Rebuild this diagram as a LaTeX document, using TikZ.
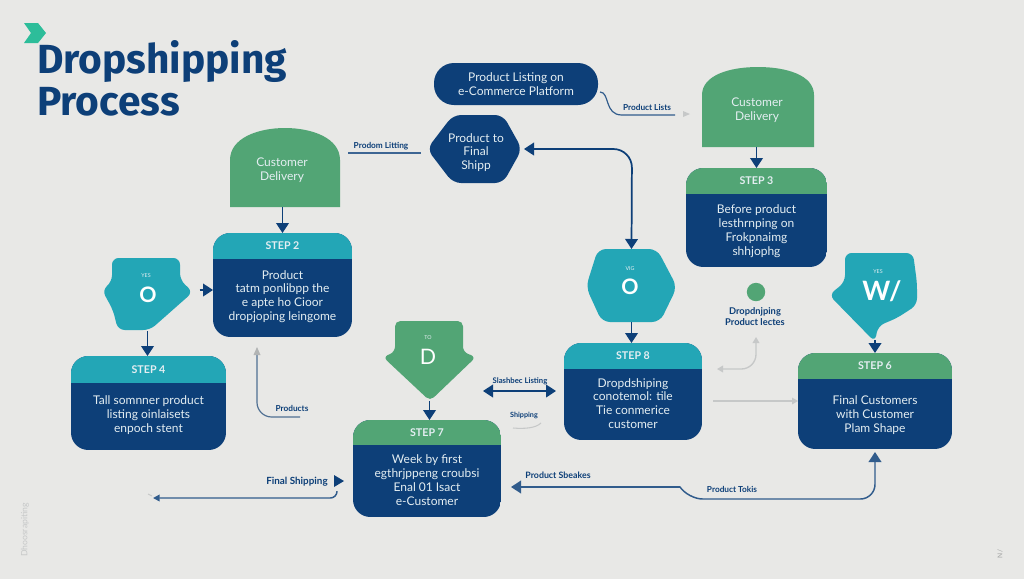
\documentclass[tikz,border=0pt]{standalone}
\usepackage{fontspec}
\setmainfont{Lato}
\newfontfamily\titlefont{Fira Sans}
\usetikzlibrary{arrows.meta,calc,fit}
\definecolor{bgc}{HTML}{E8E8E6}
\definecolor{navyc}{HTML}{0D3F78}
\definecolor{tealc}{HTML}{23A6B6}
\definecolor{greenc}{HTML}{52A575}
\definecolor{mintc}{HTML}{2DBD9A}
\definecolor{txtc}{HTML}{E4EEF2}
\definecolor{faintc}{HTML}{C6C8C8}
\definecolor{midc}{HTML}{4F6F92}
\newcommand{\labelsized}[1]{\fontsize{#1}{8}\selectfont\bfseries}
\tikzset{
  box/.style={inner sep=0pt,outer sep=0pt},
  bodytext/.style={text=txtc,align=center,font=\fontsize{9}{10.4}\selectfont,inner sep=0pt},
  titletext/.style={text=txtc,font=\fontsize{8}{10}\selectfont\bfseries,inner sep=0pt},
  smalllabel/.style={text=navyc,align=center,font=\labelsized{6.2},inner sep=0pt},
  tinytext/.style={text=txtc,font=\fontsize{4}{5}\selectfont,inner sep=0pt},
  bigletter/.style={text=white,font=\fontsize{16}{18}\selectfont,inner sep=0pt},
  headline/.style={anchor=base west,inner sep=0pt,text=navyc,font=\titlefont\fontsize{30.5}{32}\selectfont\bfseries},
  flow/.style={draw=navyc,line width=1.3pt,-{Triangle[length=7.5pt,width=9.5pt]}},
  flowboth/.style={draw=navyc,line width=1.3pt,{Triangle[length=7.5pt,width=9.5pt]}-{Triangle[length=7.5pt,width=9.5pt]}},
  thinflow/.style={draw=midc,line width=.9pt},
  faintflow/.style={draw=faintc,line width=.8pt},
  fainthead/.style={-{Triangle[length=4.5pt,width=5pt]}},
  softc/.style={rounded corners=6pt},
}
\newcommand{\bodyshift}{0}
% name, x0, y0, x1, y1, ysplit, colour, title, body
\newcommand{\flowcard}[9]{%
  \coordinate (#1-a) at (#2,#3);
  \coordinate (#1-b) at (#4,#5);
  \node[box,fit=(#1-a)(#1-b)] (#1) {};
  \begin{scope}
    \clip[rounded corners=13pt] (#2,#3) rectangle (#4,#5);
    \fill[navyc] (#2,#3) rectangle (#4,#5);
    \fill[#7] (#2,#3) rectangle (#4,#6);
  \end{scope}
  \node[titletext] (#1-title) at ($(#2,#3)!.5!(#4,#6)$) {#8};
  \node[bodytext] (#1-body) at ($(#2,#6)!.5!(#4,#5)+(0,\bodyshift)$) {#9};
}
\begin{document}
\begin{tikzpicture}[x=.75pt,y=-.75pt]
\useasboundingbox (0,0) rectangle (1024,579);
\fill[bgc] (0,0) rectangle (1024,579);

% title
\fill[mintc] (24,23) -- (38,23) -- (46,33) -- (38,43) -- (24,43) -- (31,33) -- cycle;
\node[headline] (title1) at (37,73) {Dropshipping};
\node[headline] (title2) at (37,115) {Process};

% customer delivery boxes
\fill[greenc] (230,207) -- (230,160) .. controls (230,138) and (258,128) .. (285,128) .. controls (312,128) and (340,138) .. (340,160) -- (340,207) -- cycle;
\coordinate (cl-a) at (230,128); \coordinate (cl-b) at (340,207);
\node[box,fit=(cl-a)(cl-b)] (custL) {};
\node[bodytext,text=txtc] (custLt) at (282,170) {Customer\\Delivery};

\fill[greenc] (702,147) -- (702,95) .. controls (702,75) and (730,67) .. (758,67) .. controls (786,67) and (814,75) .. (814,95) -- (814,147) -- cycle;
\coordinate (cr-a) at (702,67); \coordinate (cr-b) at (814,147);
\node[box,fit=(cr-a)(cr-b)] (custR) {};
\node[bodytext] (custRt) at (757,110) {Customer\\Delivery};

% pill
\coordinate (p-a) at (434,63); \coordinate (p-b) at (598,105);
\fill[navyc,rounded corners=15pt] (434,63) rectangle (598,105);
\node[box,fit=(p-a)(p-b)] (pill) {};
\node[bodytext] (pillt) at (516,84) {Product Listing on\\e-Commerce Platform};

% navy hexagon
\fill[navyc,softc] (427,149) -- (453,115) -- (503,115) -- (522,149) -- (503,183) -- (453,183) -- cycle;
\coordinate (h-a) at (427,115); \coordinate (h-b) at (522,183);
\node[box,fit=(h-a)(h-b)] (hexN) {};
\node[bodytext] (hexNt) at (476,152.5) {Product to\\Final\\Shipp};

% teal hexagon
\fill[tealc,softc] (586,287) -- (598,249) -- (657,249) -- (677,287) -- (660,322) -- (602,322) -- cycle;
\coordinate (t-a) at (586,249); \coordinate (t-b) at (677,322);
\node[box,fit=(t-a)(t-b)] (hexT) {};
\node[tinytext] (hexTs) at (630,269) {VIG};
\node[bigletter,font=\fontsize{16}{18}\selectfont\bfseries] (hexTo) at (630,287) {O};

% left teal pointer
\fill[tealc,rounded corners=5pt] (112,258) -- (180,258) -- (180,280) -- (193,292) -- (150,330) -- (118,330) -- (113,310) -- (102,290) -- (112,282) -- cycle;
\coordinate (l-a) at (102,258); \coordinate (l-b) at (193,331);
\node[box,fit=(l-a)(l-b)] (ptrL) {};
\node[tinytext] (ptrLs) at (146,276) {YES};
\node[bigletter,font=\fontsize{16}{18}\selectfont\bfseries] (ptrLo) at (148,295) {O};

% green pointer
\fill[greenc,rounded corners=4pt] (395,321) -- (463,321) -- (463,352) -- (476,357) -- (430,401) -- (383,357) -- (395,352) -- cycle;
\coordinate (d-a) at (383,321); \coordinate (d-b) at (476,401);
\node[box,fit=(d-a)(d-b)] (ptrD) {};
\node[tinytext] (ptrDs) at (428,338) {TO};
\node[bigletter] (ptrDo) at (428,357) {D};

% right teal pointer
\fill[tealc,rounded corners=5pt] (845,253) -- (913,253) -- (917,283) -- (917,305) -- (897,318) -- (878,326) -- (875,342) -- (829,295) -- (845,282) -- cycle;
\coordinate (w-a) at (829,253); \coordinate (w-b) at (917,342);
\coordinate (w-tip) at (875,340);
\node[box,fit=(w-a)(w-b)] (ptrW) {};
\node[tinytext] (ptrWs) at (878,272) {YES};
\node[bigletter,font=\fontsize{20}{22}\selectfont\bfseries] (ptrWo) at (882,291) {W/};

% step cards
\renewcommand{\bodyshift}{-1.5}
\flowcard{stepB}{213}{233}{352}{337}{259}{tealc}{STEP 2}{Product\\tatm ponlibpp the\\e apte ho Cioor\\dropjoping leingome}
\flowcard{stepD}{71}{356}{226}{450}{383}{tealc}{STEP 4}{Tall somnner product\\listing oinlaisets\\enpoch stent}
\renewcommand{\bodyshift}{0.5}
\flowcard{stepC}{686}{168}{827}{267}{194}{greenc}{STEP 3}{Before product\\lesthrnping on\\Frokpnaimg\\shhjophg}
\renewcommand{\bodyshift}{-1}
\flowcard{stepH}{564}{343}{702}{440}{369}{tealc}{STEP 8}{Dropdshiping\\conotemol: tile\\Tie conmerice\\customer}
\flowcard{stepG}{353}{420}{501}{517}{445}{greenc}{STEP 7}{Week by first\\egthrjppeng croubsi\\Enal 01 Isact\\e-Customer}
\renewcommand{\bodyshift}{1}
\flowcard{stepF}{798}{353}{952}{449}{379}{greenc}{STEP 6}{Final Customers\\with Customer\\Plam Shape}

% vertical connectors
\draw[flow] (stepB.north |- custL.south) -- (stepB.north);
\draw[flow] (stepC.north |- custR.south) -- (stepC.north);
\draw[flow] (ptrL.south) -- (ptrL.south |- stepD.north);
\draw[flow] (ptrD.south) -- (ptrD.south |- stepG.north);
\draw[flow] (hexT.south) -- (hexT.south |- stepH.north);
\draw[flow] (w-tip) -- (w-tip |- stepF.north);
\draw[flow,shorten <=5pt] (ptrL.east |- 0,290) -- (stepB.west |- 0,290);

% hexagon link
\coordinate (hexlink) at (632,149);
\draw[flowboth,rounded corners=14pt] (hexN.east) ++(2,0) -- (hexlink) -- (hexT.north);

% plain link with label
\coordinate (linkL) at (348,153);
\coordinate (linkLe) at (421,153);
\draw[thinflow,draw=navyc!80] (linkL) -- (linkLe);
\node[smalllabel] (linkLt) at (381,146) {Prodom Litting};

% pill to delivery
\coordinate (sq0) at (600,92);
\coordinate (sq1) at (675,115);
\coordinate (sq2) at (683,114);
\draw[thinflow,draw=navyc!85] (sq0) .. controls (610,92) and (604,115) .. (622,115) -- (sq1);
\fill[faintc] (sq2) -- ++(0,-3) -- ++(7,3) -- ++(-7,3) -- cycle;
\node[smalllabel] (sq2t) at (647,107) {Product Lists};

% step 2 return
\coordinate (rs) at (300,417);
\coordinate (rm) at (257,417);
\draw[thinflow,rounded corners=11pt] (rs) -- (rm) -- (257,352);
\fill[faintc!90!black] (257,347) -- ++(3.5,8) -- ++(-7,0) -- cycle;
\node[smalllabel] (rst) at (292,408) {Products};

% final shipping
\coordinate (fsa) at (337,491);
\coordinate (fsb) at (337,498);
\coordinate (fse) at (153,498);
\coordinate (fsh) at (334,481);
\draw[thinflow,line width=1.1pt,draw=navyc!85,rounded corners=5pt,-{Triangle[length=5pt,width=5pt]}] (fsa) -- (fsb) -- (fse);
\draw[faintc,line width=.8pt] (148,494) -- (152,496);
\fill[navyc] (334,475) -- (344,481) -- (334,487) -- cycle;
\node[smalllabel,font=\labelsized{7.4}] (fst) at (297,482) {Final Shipping};

% step 7 / step 8
\coordinate (dba) at (483,391);
\coordinate (dbb) at (556,391);
\draw[flowboth] (dba) -- (dbb);
\node[smalllabel,font=\labelsized{5.8}] (dbt) at (520,381) {Slashbec Listing};
\node[smalllabel,font=\labelsized{5.4}] (dbs) at (524,415) {Shipping};
\coordinate (sh1) at (513,428);
\coordinate (sh2) at (541,423);
\draw[faintflow] (sh1) .. controls (525,429) and (536,428) .. (sh2);

% product return
\coordinate (pr1) at (680,487);
\draw[thinflow,line width=1.1pt,draw=navyc!85,rounded corners=11pt,-{Triangle[length=7.5pt,width=9.5pt]}] (pr1) -- (688,499) -- (875,499) -- (875,452);
\draw[flow,line width=1.1pt,draw=navyc!85] (pr1) -- (511,487);
\node[smalllabel,font=\labelsized{6.6}] (prt1) at (558,475) {Product Sbeakes};
\node[smalllabel] (prt2) at (732,489) {Product Tokis};

% green dot and faint links
\coordinate (dot) at (756,292);
\fill[greenc] (dot) circle (6.9pt);
\node[smalllabel,font=\labelsized{7}] (dott) at (755,316.5) {Dropdnjping\\Product lectes};
\coordinate (fa) at (717,369);
\coordinate (fb) at (756,337);
\draw[faintflow,line width=1pt,rounded corners=11pt,{Triangle[length=4.5pt,width=5pt]}-{Triangle[length=4.5pt,width=5pt]}] (fa) -- (756,369) -- (fb);
\coordinate (fc) at (713,401);
\draw[faintflow,fainthead] (fc) -- (stepF.west |- fc);

% faint marks
\node[rotate=90,text=faintc,font=\fontsize{6.5}{8}\selectfont,inner sep=0pt] (wm1) at (25,530) {Dhoosrapiting};
\node[rotate=90,text=faintc!80!black,font=\fontsize{5}{6}\selectfont,inner sep=0pt] (wm2) at (1000,554) {N/};
\end{tikzpicture}
\end{document}
